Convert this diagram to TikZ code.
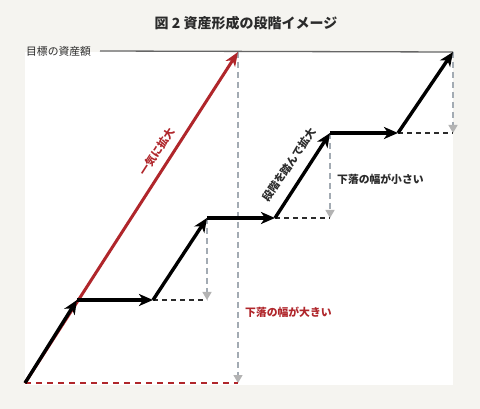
\documentclass[tikz,border=0pt]{standalone}
\usepackage{fontspec}
\setmainfont{Noto Sans CJK JP}
\usetikzlibrary{arrows.meta}
\definecolor{bg}{HTML}{F5F4F0}
\definecolor{myred}{HTML}{B0262B}
\definecolor{guide}{HTML}{A3ABB3}
\definecolor{tipgray}{HTML}{B3B3B3}
\definecolor{txt}{HTML}{2B2B2B}
\begin{document}
\begin{tikzpicture}[x=1pt,y=-1pt,
  stepline/.style={line width=3.4pt, black, -{Stealth[length=14pt,width=12pt,inset=4pt]}},
  redline/.style={line width=3pt, myred, -{Stealth[length=14pt,width=11pt,inset=4pt]}},
  guideline/.style={line width=1.3pt, guide, dash pattern=on 6pt off 4pt, -{Triangle[length=8pt,width=9pt,fill=tipgray,color=tipgray]}},
  flatdash/.style={line width=1.6pt, txt, dash pattern=on 5pt off 4pt},
  reddash/.style={line width=1.6pt, myred, dash pattern=on 6pt off 5pt},
  lbl/.style={font=\fontsize{10.8}{12}\selectfont\bfseries, inner sep=0pt},
]
\useasboundingbox (0,0) rectangle (480,409);
\fill[bg] (0,0) rectangle (480,409);
\fill[white] (25,52) rectangle (453,385);

% key points
\coordinate (O) at (25,383);
\coordinate (Rtop) at (238,52);
\coordinate (Rbot) at (238,383);
\coordinate (A1) at (77,300);
\coordinate (B1) at (153,300);
\coordinate (C1) at (207,300);
\coordinate (A2) at (207,218);
\coordinate (B2) at (275,218);
\coordinate (C2) at (330,218);
\coordinate (A3) at (330,133);
\coordinate (B3) at (398,133);
\coordinate (C3) at (453,133);
\coordinate (A4) at (453,52);
\coordinate (Gs) at (100,51);

% title and goal line
\node[font=\fontsize{14}{16}\selectfont\bfseries, text=txt, inner sep=0pt] (title) at (246,23) {図 2 資産形成の段階イメージ};
\node[font=\fontsize{10.8}{12}\selectfont, text=txt, inner sep=0pt, anchor=west] (goal) at (26,51) {目標の資産額};
\draw[line width=1.3pt, black!60] (Gs) -- (A4);

% guides
\draw[guideline] (Rtop) -- (Rbot);
\draw[guideline] (A2) -- (C1);
\draw[guideline] (A3) -- (C2);
\draw[guideline] (A4) -- (C3);

% dashed baselines
\draw[reddash] (O) -- (Rbot);
\draw[flatdash] (B1) -- (C1);
\draw[flatdash] (B2) -- (C2);
\draw[flatdash] (B3) -- (C3);

% red one-shot line
\draw[redline] (O) -- (Rtop);

% step path
\draw[stepline] (O) -- (A1);
\draw[stepline] (A1) -- (B1);
\draw[stepline] (B1) -- (A2);
\draw[stepline] (A2) -- (B2);
\draw[stepline] (B2) -- (A3);
\draw[stepline] (A3) -- (B3);
\draw[stepline] (B3) -- (A4);

% labels
\node[lbl, text=myred, rotate=57.2] (l1) at (157,152) {一気に拡大};
\node[lbl, text=txt, rotate=55.8] (l2) at (289,165) {段階を踏んで拡大};
\node[lbl, text=txt, anchor=west] (l3) at (337,179) {下落の幅が小さい};
\node[lbl, text=myred, anchor=west] (l4) at (245,312) {下落の幅が大きい};
\end{tikzpicture}
\end{document}
